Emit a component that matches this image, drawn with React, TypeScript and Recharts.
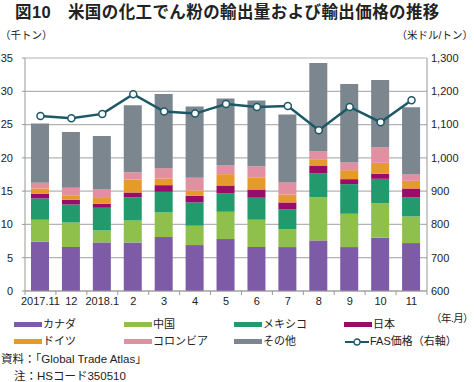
import React from 'react';
import { ComposedChart, Bar, Line, XAxis, YAxis, CartesianGrid } from 'recharts';

const months = ['2017.11', '12', '2018.1', '2', '3', '4', '5', '6', '7', '8', '9', '10', '11'];
const canada = [7.4, 6.6, 7.3, 7.3, 8.1, 6.9, 7.8, 6.6, 6.6, 7.6, 6.6, 8.0, 7.2];
const china = [3.3, 3.7, 1.8, 3.3, 3.7, 2.9, 4.1, 4.1, 2.7, 6.5, 5.0, 5.2, 4.0];
const mexico = [3.2, 2.7, 3.4, 3.5, 3.1, 3.5, 2.8, 3.3, 3.0, 3.6, 4.45, 3.65, 2.9];
const japan = [0.7, 0.7, 0.6, 0.7, 1.0, 1.0, 1.15, 1.25, 1.0, 1.15, 0.75, 0.75, 1.3];
const germany = [0.8, 0.6, 1.0, 1.95, 1.0, 0.8, 1.7, 1.75, 1.2, 0.85, 1.35, 1.65, 1.15];
const colombia = [0.85, 1.2, 1.2, 1.1, 1.55, 1.9, 1.3, 1.75, 1.85, 1.3, 1.15, 2.35, 1.0];
const others = [8.9, 8.4, 8.0, 10.05, 11.15, 10.7, 10.05, 9.85, 10.15, 13.25, 11.8, 10.1, 10.05];
const fasPrice = [1126, 1119, 1132, 1191, 1139, 1133, 1162, 1153, 1156, 1083, 1153, 1107, 1173];

const leftTicks = [0, 5, 10, 15, 20, 25, 30, 35];
const rightTicks = [600, 700, 800, 900, 1000, 1100, 1200, 1300];

const data = months.map((m, i) => ({
  month: m,
  canada: canada[i],
  china: china[i],
  mexico: mexico[i],
  japan: japan[i],
  germany: germany[i],
  colombia: colombia[i],
  others: others[i],
  fas: fasPrice[i],
}));

const FONT = "'Liberation Sans', 'Noto Sans CJK JP', sans-serif";
const LINE_COLOR = '#1d5866';

const series = [
  { key: 'canada', name: 'カナダ', color: '#7d5ba6' },
  { key: 'china', name: '中国', color: '#8fc04c' },
  { key: 'mexico', name: 'メキシコ', color: '#229a6d' },
  { key: 'japan', name: '日本', color: '#9a0b6a' },
  { key: 'germany', name: 'ドイツ', color: '#e59a2b' },
  { key: 'colombia', name: 'コロンビア', color: '#e290a1' },
  { key: 'others', name: 'その他', color: '#7c868e' },
];

const MonthTick = (props: any) => {
  const { x, y, payload, width, index } = props;
  const bw = width / months.length;
  return (
    <g>
      <line x1={x - bw / 2} x2={x - bw / 2} y1={y - 6} y2={y - 2} stroke="#999" />
      {index === months.length - 1 && (
        <line x1={x + bw / 2} x2={x + bw / 2} y1={y - 6} y2={y - 2} stroke="#999" />
      )}
      <text x={x} y={y} dy="0.71em" textAnchor="middle" fontSize={11} fill="#222" fontFamily={FONT}>
        {payload.value}
      </text>
    </g>
  );
};

const legendCols = [14, 124, 234, 344];
const abs = (left: number, top: number, fontSize: number): React.CSSProperties => ({
  position: 'absolute', left, top, fontSize, lineHeight: `${fontSize + 2}px`, whiteSpace: 'nowrap',
});

export default function App() {
  return (
    <div style={{ position: 'absolute', left: 0, top: 0, width: 474, height: 382, background: '#fff', fontFamily: FONT, color: '#222', overflow: 'hidden' }}>
      <div style={{ ...abs(15, 3, 16.5), fontWeight: 'bold', letterSpacing: 0.4 }}>
        図10　米国の化工でん粉の輸出量および輸出価格の推移
      </div>
      <div style={abs(0, 29, 10.5)}>（千トン）</div>
      <div style={{ ...abs(0, 29, 10.5), left: undefined, right: 1 }}>（米ドル/トン）</div>

      <div style={{ position: 'absolute', left: 0, top: 0 }}>
        <ComposedChart width={474} height={320} data={data} margin={{ top: 58, right: 0, left: 0, bottom: 0 }}>
          <CartesianGrid yAxisId="left" vertical={false} stroke="#b3b3b3" strokeWidth={1.2} />
          <XAxis
            dataKey="month"
            height={29}
            axisLine={{ stroke: '#999' }}
            tickLine={false}
            tickSize={4}
            tickMargin={2}
            interval={0}
            tick={<MonthTick />}
          />
          <YAxis
            yAxisId="left"
            width={25}
            domain={[0, 35]}
            ticks={leftTicks}
            axisLine={{ stroke: '#999' }}
            tickLine={{ stroke: '#999' }}
            tickSize={3}
            tickMargin={9}
            tick={{ fontSize: 11, fill: '#222', fontFamily: FONT }}
          />
          <YAxis
            yAxisId="right"
            orientation="right"
            width={47}
            domain={[600, 1300]}
            ticks={rightTicks}
            axisLine={{ stroke: '#999' }}
            tickLine={false}
            tickSize={0}
            tickMargin={4}
            tickFormatter={(v: number) => v.toLocaleString('en-US')}
            tick={{ fontSize: 11, fill: '#222', fontFamily: FONT }}
          />
          {series.map(s => (
            <Bar
              key={s.key}
              yAxisId="left"
              dataKey={s.key}
              stackId="a"
              fill={s.color}
              barSize={18}
              isAnimationActive={false}
            />
          ))}
          <Line
            yAxisId="right"
            dataKey="fas"
            stroke={LINE_COLOR}
            strokeWidth={2.5}
            dot={{ r: 3.5, fill: '#fff', stroke: LINE_COLOR, strokeWidth: 1.5 }}
            isAnimationActive={false}
          />
        </ComposedChart>
      </div>

      <div style={{ ...abs(0, 312, 10.5), left: undefined, right: 1, letterSpacing: -0.6 }}>（年.月）</div>

      {series.map((s, i) => {
        const row = i < 4 ? 0 : 1;
        const col = i % 4;
        const top = row === 0 ? 318 : 335;
        return (
          <div key={s.key} style={{ ...abs(legendCols[col], top, 11), display: 'flex', alignItems: 'center' }}>
            <span style={{ display: 'inline-block', width: 28, height: 5, background: s.color, marginRight: 1 }} />
            {s.name}
          </div>
        );
      })}
      <div style={{ ...abs(legendCols[3], 335, 11), display: 'flex', alignItems: 'center' }}>
        <svg width={26} height={10}>
          <line x1={1} x2={25} y1={5} y2={5} stroke={LINE_COLOR} strokeWidth={2} />
          <circle cx={13} cy={5} r={3} fill="#fff" stroke={LINE_COLOR} strokeWidth={1.3} />
        </svg>
        FAS価格（右軸）
      </div>

      <div style={abs(1, 353, 11.5)}>資料：「Global Trade Atlas」</div>
      <div style={abs(14, 370, 11.5)}>注：HSコード350510</div>
    </div>
  );
}
